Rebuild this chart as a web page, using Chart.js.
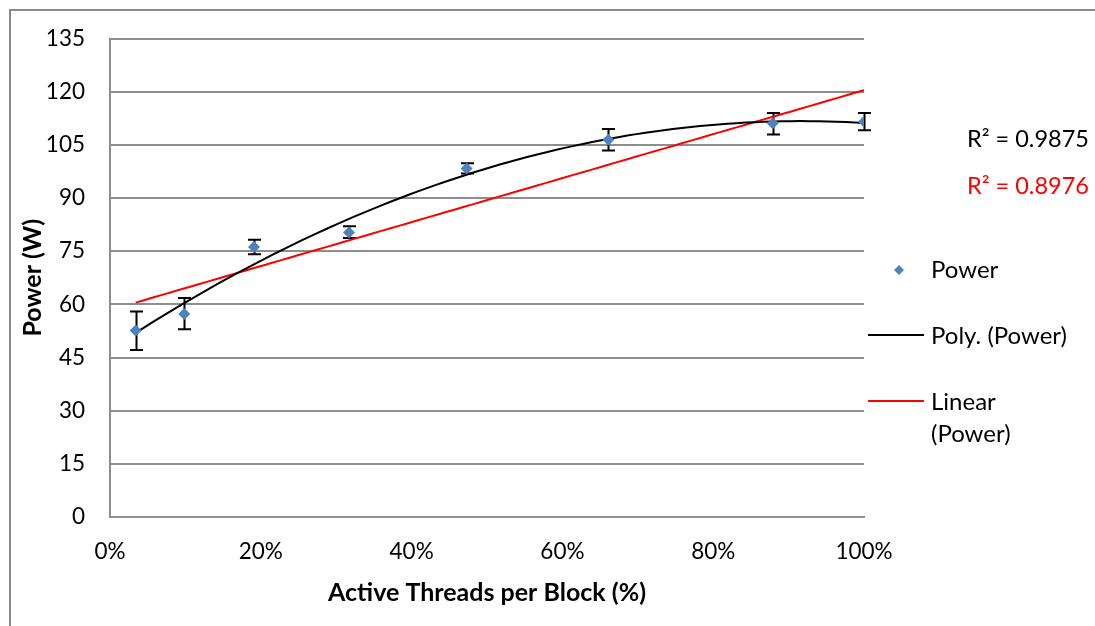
<!DOCTYPE html>
<html>
<head>
<meta charset="utf-8">
<script src="https://cdn.jsdelivr.net/npm/chart.js@4.4.0/dist/chart.umd.min.js"></script>
<style>
html,body{margin:0;padding:0;background:#fff;}
#wrap{position:relative;width:1095px;height:626px;}
</style>
</head>
<body>
<div id="wrap"><canvas id="c" width="1095" height="626"></canvas></div>
<script>
// ---- data ----
const threadPct = [0.034, 0.0985, 0.191, 0.317, 0.473, 0.661, 0.879, 1.0];
const powerW    = [52.6, 57.3, 76.2, 80.3, 98.3, 106.4, 111.1, 111.5];
const errHigh   = [58.0, 61.8, 78.2, 82.0, 99.8, 109.5, 114.0, 114.0];
const errLow    = [47.1, 53.0, 74.1, 78.7, 96.9, 103.4, 107.9, 109.1];
const yTicks    = [0, 15, 30, 45, 60, 75, 90, 105, 120, 135];
const xTicks    = [0, 0.2, 0.4, 0.6, 0.8, 1.0];
const seriesNames = ['Power', 'Poly. (Power)', ['Linear', '(Power)']];
const r2Labels  = ['R² = 0.9875', 'R² = 0.8976'];

const FONT = 'Lato';

// least squares polynomial fit (trendlines as in the original)
function polyFit(xs, ys, deg) {
  const n = deg + 1;
  const A = [], b = [];
  for (let i = 0; i < n; i++) {
    A.push([]);
    for (let j = 0; j < n; j++) A[i].push(xs.reduce((s, x) => s + Math.pow(x, i + j), 0));
    b.push(xs.reduce((s, x, k) => s + Math.pow(x, i) * ys[k], 0));
  }
  for (let i = 0; i < n; i++) {
    let p = i;
    for (let r = i + 1; r < n; r++) if (Math.abs(A[r][i]) > Math.abs(A[p][i])) p = r;
    [A[i], A[p]] = [A[p], A[i]]; [b[i], b[p]] = [b[p], b[i]];
    for (let r = i + 1; r < n; r++) {
      const f = A[r][i] / A[i][i];
      for (let c = i; c < n; c++) A[r][c] -= f * A[i][c];
      b[r] -= f * b[i];
    }
  }
  const coef = new Array(n).fill(0);
  for (let i = n - 1; i >= 0; i--) {
    let s = b[i];
    for (let c = i + 1; c < n; c++) s -= A[i][c] * coef[c];
    coef[i] = s / A[i][i];
  }
  return coef;
}
function trend(coef) {
  const x0 = threadPct[0], x1 = threadPct[threadPct.length - 1];
  const pts = [];
  for (let k = 0; k <= 80; k++) {
    const x = x0 + (x1 - x0) * k / 80;
    pts.push({x, y: coef.reduce((s, c, i) => s + c * Math.pow(x, i), 0)});
  }
  return pts;
}
const polyPts = trend(polyFit(threadPct, powerW, 2));
const linPts  = trend(polyFit(threadPct, powerW, 1));

const frame = {
  id: 'frame',
  beforeDraw(chart) {
    const ctx = chart.ctx;
    ctx.save();
    ctx.strokeStyle = '#8a8a8a';
    ctx.lineWidth = 2;
    ctx.beginPath();
    ctx.moveTo(10, 640); ctx.lineTo(10, 10); ctx.lineTo(1100, 10);
    ctx.stroke();
    ctx.restore();
  }
};

const errorBars = {
  id: 'errorBars',
  beforeDatasetsDraw(chart) {
    const ctx = chart.ctx, xs = chart.scales.x, ys = chart.scales.y;
    ctx.save();
    ctx.strokeStyle = '#000';
    ctx.lineWidth = 2;
    threadPct.forEach((v, i) => {
      const px = Math.round(xs.getPixelForValue(v)) + 0.5;
      const top = ys.getPixelForValue(errHigh[i]);
      const bot = ys.getPixelForValue(errLow[i]);
      ctx.beginPath();
      ctx.moveTo(px, top); ctx.lineTo(px, bot);
      ctx.moveTo(px - 6.5, top); ctx.lineTo(px + 6.5, top);
      ctx.moveTo(px - 6.5, bot); ctx.lineTo(px + 6.5, bot);
      ctx.stroke();
    });
    ctx.restore();
  }
};

const sideLegend = {
  id: 'sideLegend',
  afterDraw(chart) {
    const ctx = chart.ctx, ca = chart.chartArea;
    const lx = ca.right + 4, tx = ca.right + 67;
    ctx.save();
    ctx.textBaseline = 'middle';
    ctx.textAlign = 'left';
    // R² labels
    ctx.font = '23.5px ' + FONT;
    ctx.fillStyle = '#000';
    ctx.fillText(r2Labels[0], ca.right + 103, 139);
    ctx.fillStyle = '#ff0000';
    ctx.fillText(r2Labels[1], ca.right + 103, 186);
    // legend: Power
    ctx.font = '24px ' + FONT;
    ctx.fillStyle = '#4f81bd';
    const dx = ca.right + 35, dy = 270;
    ctx.beginPath();
    ctx.moveTo(dx, dy - 5); ctx.lineTo(dx + 5, dy); ctx.lineTo(dx, dy + 5); ctx.lineTo(dx - 5, dy); ctx.closePath();
    ctx.fill();
    ctx.fillStyle = '#000';
    ctx.fillText(seriesNames[0], tx, 270);
    // Poly
    ctx.strokeStyle = '#000'; ctx.lineWidth = 2;
    ctx.beginPath(); ctx.moveTo(lx, 335); ctx.lineTo(ca.right + 60, 335); ctx.stroke();
    ctx.fillText(seriesNames[1], tx, 336);
    // Linear
    ctx.strokeStyle = '#ff0000';
    ctx.beginPath(); ctx.moveTo(lx, 401); ctx.lineTo(ca.right + 60, 401); ctx.stroke();
    ctx.fillText(seriesNames[2][0], tx, 402);
    ctx.fillText(seriesNames[2][1], tx, 434);
    ctx.restore();
  }
};

new Chart(document.getElementById('c'), {
  type: 'scatter',
  data: {
    datasets: [
      {
        label: seriesNames[0],
        data: threadPct.map((x, i) => ({x, y: powerW[i]})),
        pointStyle: 'rectRot',
        pointRadius: 6,
        pointBackgroundColor: '#4f81bd',
        pointBorderColor: '#4f81bd',
        pointBorderWidth: 0,
        showLine: false
      },
      {
        label: 'Poly. (Power)',
        data: polyPts,
        showLine: true,
        borderColor: '#000',
        borderWidth: 2,
        pointRadius: 0,
        tension: 0
      },
      {
        label: 'Linear (Power)',
        data: linPts,
        showLine: true,
        borderColor: '#ff0000',
        borderWidth: 2,
        pointRadius: 0,
        tension: 0
      }
    ]
  },
  options: {
    responsive: false,
    animation: false,
    layout: { padding: { left: 0, top: 37, right: 231, bottom: 0 } },
    plugins: { legend: { display: false }, tooltip: { enabled: false } },
    scales: {
      x: {
        type: 'linear',
        min: 0, max: 1,
        afterBuildTicks(s) { s.ticks = xTicks.map(v => ({value: v})); },
        afterFit(s) { s.height = 626 - 517; },
        grid: { display: false, drawTicks: false },
        border: { display: true, color: '#8e8e8e', width: 2 },
        ticks: {
          padding: 21,
          color: '#000',
          font: { family: FONT, size: 22.5, lineHeight: 1.2 },
          callback: v => Math.round(v * 100) + '%'
        },
        title: {
          display: true,
          text: 'Active Threads per Block (%)',
          color: '#000',
          font: { family: FONT, size: 25, weight: 'bold', lineHeight: 1.2 },
          padding: { top: 0, bottom: 18 }
        }
      },
      y: {
        min: 0, max: 135,
        afterBuildTicks(s) { s.ticks = yTicks.map(v => ({value: v})); },
        afterFit(s) { s.width = 110; },
        grid: { color: '#8e8e8e', lineWidth: 2, drawTicks: false },
        border: { display: true, color: '#8e8e8e', width: 2 },
        ticks: {
          padding: 25,
          color: '#000',
          font: { family: FONT, size: 22.5, lineHeight: 1.2 }
        },
        title: {
          display: true,
          text: 'Power (W)',
          color: '#000',
          font: { family: FONT, size: 25, weight: 'bold', lineHeight: 1.2 },
          padding: { top: 18, bottom: 0 }
        }
      }
    }
  },
  plugins: [frame, errorBars, sideLegend]
});
</script>
</body>
</html>
